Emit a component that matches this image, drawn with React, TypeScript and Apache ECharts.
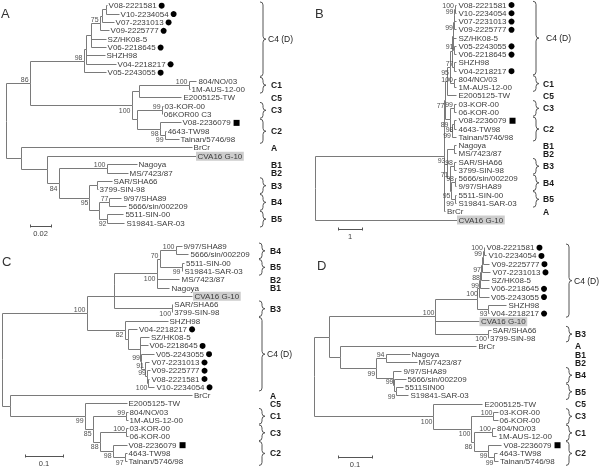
import React, { useEffect, useRef } from 'react';
import * as echarts from 'echarts';

// ---------- DATA: trees (Newick, branch lengths in substitutions/site; "_" = bootstrap drawn below) ----------
const NEWICK_A = `(
 (
  (
   (
    (
     (
      ((V08-2221581:0.001,V10-2234054:0.0124):0.0038,V07-2231013:0.0114):0.0019,
      V09-2225777:0.0086
     )75:0.0086,
     SZ/HK08-5:0.0143,V06-2218645:0.0143
    ):0.0048,
    SHZH98:0.0181,V04-2218217:0.0286
   ):0.0019,
   V05-2243055:0.021
  )98:0.0514,
  (
   ((804/NO/03:0.0076,1M-AUS-12-00:0.001)100:0.0467,E2005125-TW:0.04):0.0076,
   ((03-KOR-00:0.001,06KOR00 C3:0.0003)99:0.0238,(V08-2236079:0.02,(4643-TW98:0.001,Tainan/5746/98:0.0133)99_:0.0048)98_:0.0219):0.0048
  )100_:0.0971
 )86:0.0229,
 (
  BrCr:0.1629,
  (
   CVA16 G-10:0.1419,
   (
    (Nagoya:0.0286,MS/7423/87:0.02)100:0.0457,
    (
     (SAR/SHA66:0.0143,3799-SIN-98:0.001):0.0067,
     ((9/97/SHA89:0.0114,5666/sin/002209:0.0162)77:0.0095,(5511-SIN-00:0.0152,S19841-SAR-03:0.0162)92_:0.0076):0.0095
    )95_:0.0295
   )84_:0.0114
  ):0.0248
 ):0.0143
);`;

const NEWICK_B = `(
 (
  (
   (
    (
     (
      (
       (
        ((V08-2221581:0.0625,V10-2234054:0.0625)100:0.021,V07-2231013:0.083)99:0.021,
        V09-2225777:0.104
       )99_:0.021,
       SZ/HK08-5:0.125,
       (V05-2243055:0.083,V06-2218645:0.083)91:0.042
      ):0.0625,
      (SHZH98:0.083,V04-2218217:0.083)77:0.104
     ):0.083,
     (804/NO/03:0.104,1M-AUS-12-00:0.104)100:0.167
    )95_:0.104,
    E2005125-TW:0.375
   ):0.083,
   (
    (03-KOR-00:0.104,06-KOR-00:0.104)99:0.1875,
    ((V08-2236079:0.083,4643-TW98:0.083)98_:0.104,Tainan/5746/98:0.1875)99_:0.104
   )89_:0.167
  )77_:0.083,
  (
   (Nagoya:0.104,MS/7423/87:0.104):0.3125,
   (
    (SAR/SHA66:0.104,3799-SIN-98:0.104)98:0.1875,
    ((5666/sin/002209:0.0625,9/97/SHA89:0.0625)98:0.146,(5511-SIN-00:0.0625,S19841-SAR-03:0.0625)99_:0.146)95_:0.083
   )71:0.125
  )93:0.125,
  BrCr:0.0625
 ):5.375,
 CVA16 G-10:5.917
);`;

const NEWICK_C = `(
 (
  (
   (
    (
     ((9/97/SHA89:0.0158,5666/sin/002209:0.0342)100:0.0421,(5511-SIN-00:0.0066,S19841-SAR-03:0.0026)99_:0.0579)70:0.0079,
     MS/7423/87:0.0605,
     Nagoya:0.0342
    )100_:0.1113,
    CVA16 G-10:0.206
   ):0.0018,
   (SAR/SHA66:0.0008,3799-SIN-98:0.0003)100_:0.154
  ):0.0711,
  (
   SHZH98:0.1132,
   (
    V04-2218217:0.025,
    (
     SZ/HK08-5:0.025,
     V06-2218645:0.0211,
     (V05-2243055:0.0342,(V07-2231013:0.0118,(V09-2225777:0.0066,(V08-2221581:0.0026,V10-2234054:0.0158)100_:0.0039)99:0.0053)91:0.0105)99:0.0039
    ):0.0316
   ):0.0079
  )82_:0.1
 )100:0.2237,
 (
  BrCr:0.4803,
  (
   E2005125-TW:0.1105,
   (
    (804/NO/03:0.0039,1M-AUS-12-00:0.0039)99:0.0882,
    ((03-KOR-00:0.0039,06-KOR-00:0.0039)100:0.0697,(V08-2236079:0.0368,(4643-TW98:0.0053,Tainan/5746/98:0.0053)97_:0.0316)98_:0.0342)88_:0.0184
   )85_:0.0211
  )99_:0.1974
 ):0.0211
);`;

const NEWICK_D = `(
 (
  (
   (
    (
     (
      (
       (
        ((V08-2221581:0.0015,V10-2234054:0.0074)100:0.0029,V09-2225777:0.0191)99:0.0029,
        V07-2231013:0.025
       )97_:0.0029,
       SZ/HK08-5:0.025
      )88_:0.0029,
      V06-2218645:0.0265
     )99_:0.0029,
     V05-2243055:0.0294
    )100_:0.0044,
    (SHZH98:0.0529,V04-2218217:0.0015)93_:0.0324
   ):0.1235,
   CVA16 G-10:0.1279,
   (SAR/SHA66:0.0074,3799-SIN-98:0.0003)100_:0.1544
  )100:0.3138,
  (
   BrCr:0.4009,
   (
    (Nagoya:0.0706,MS/7423/87:0.0912)94:0.0274,
    (9/97/SHA89:0.0256,(5666/sin/002209:0.0324,(5511SIN00:0.0191,S19841-SAR-03:0.0353)99_:0.0059)99:0.005):0.0488
   )99_:0.1059
  ):0.0335
 ):0.045,
 (
  E2005125-TW:0.1441,
  (
   (03-KOR-00:0.0118,06-KOR-00:0.0118)100:0.0647,
   (
    (804/NO/03:0.0088,1M-AUS-12-00:0.0132)100:0.0544,
    (V08-2236079:0.0382,(4643-TW98:0.0088,Tainan/5746/98:0.0103)99_:0.0176)99_:0.0441
   )86_:0.0059
  )100_:0.1118
 )100_:0.3529
);`;

const DOT_LEAVES = ['V08-2221581', 'V10-2234054', 'V07-2231013', 'V09-2225777', 'V06-2218645', 'V05-2243055', 'V04-2218217'];
const SQUARE_LEAVES = ['V08-2236079'];
const BOXED_LEAVES = ['CVA16 G-10'];

// [label, first row, last row]
const GROUPS_A: [string, number, number][] = [['C4 (D)', 0, 8], ['C1', 9, 10], ['C5', 11, 11], ['C3', 12, 13], ['C2', 14, 16], ['A', 17, 17], ['B1', 19, 19], ['B2', 20, 20], ['B3', 21, 22], ['B4', 23, 24], ['B5', 25, 26]];
const GROUPS_B: [string, number, number][] = [['C4 (D)', 0, 8], ['C1', 9, 10], ['C5', 11, 11], ['C3', 12, 13], ['C2', 14, 16], ['B1', 17, 17], ['B2', 18, 18], ['B3', 19, 20], ['B4', 21, 22], ['B5', 23, 24], ['A', 25, 25]];
const GROUPS_C: [string, number, number][] = [['B4', 0, 1], ['B5', 2, 3], ['B2', 4, 4], ['B1', 5, 5], ['B3', 7, 8], ['C4 (D)', 9, 17], ['A', 18, 18], ['C5', 19, 19], ['C1', 20, 21], ['C3', 22, 23], ['C2', 24, 26]];
const GROUPS_D: [string, number, number][] = [['C4 (D)', 0, 8], ['B3', 10, 11], ['A', 12, 12], ['B1', 13, 13], ['B2', 14, 14], ['B4', 15, 16], ['B5', 17, 18], ['C5', 19, 19], ['C3', 20, 21], ['C1', 22, 23], ['C2', 24, 26]];

const SCALE_VALUES = [0.02, 1, 0.1, 0.1];
const SCALE_LABELS = ['0.02', '1', '0.1', '0.1'];
const PANEL_LETTERS = ['A', 'B', 'C', 'D'];

// ---------- LAYOUT / STYLE ----------
const LAYOUT = [
  { rootX: 6, ppu: 1050, row0: 5.7, step: 8.37, braceX: 260, labelX: 271, c4X: 268, barX: 30, barY: 226.5, letterX: 1, letterY: 13 },
  { rootX: 315, ppu: 24, row0: 5, step: 8.27, braceX: 533, labelX: 543, c4X: 546, barX: 338, barY: 229.5, letterX: 315, letterY: 13 },
  { rootX: 2, ppu: 380, row0: 246.7, step: 8.27, braceX: 259, labelX: 270, c4X: 267, barX: 25, barY: 456.5, letterX: 2, letterY: 261 },
  { rootX: 314, ppu: 340, row0: 247.7, step: 8.23, braceX: 566, labelX: 575, c4X: 574, barX: 338, barY: 457.5, letterX: 317, letterY: 265 },
];
const FONT = '"Liberation Sans", Arial, Helvetica, sans-serif';
const LINE = '#7a7a7a';
const LEAF_COLOR = '#3c3c3c';
const BOOT_COLOR = '#505050';

type TNode = { name: string; len: number; children: TNode[]; depth: number; row: number };

function parseNewick(src: string): TNode {
  const s = src.replace(/\s*\n\s*/g, '').trim();
  let i = 0;
  const node = (): TNode => {
    const n: TNode = { name: '', len: 0, children: [], depth: 0, row: 0 };
    if (s[i] === '(') {
      i++;
      n.children.push(node());
      while (s[i] === ',') { i++; n.children.push(node()); }
      i++;
    }
    let name = '';
    while (i < s.length && !':,);'.includes(s[i])) name += s[i++];
    n.name = name.trim();
    if (s[i] === ':') {
      i++;
      let num = '';
      while (i < s.length && !',);'.includes(s[i])) num += s[i++];
      n.len = parseFloat(num);
    }
    return n;
  };
  return node();
}

function layoutTree(root: TNode) {
  const leaves: TNode[] = [];
  const internals: TNode[] = [];
  const edges: number[][] = [];
  let r = 0;
  const walk = (n: TNode, d: number) => {
    n.depth = d;
    if (!n.children.length) {
      n.row = r++;
      leaves.push(n);
    } else {
      n.children.forEach((c) => walk(c, d + c.len));
      n.row = (n.children[0].row + n.children[n.children.length - 1].row) / 2;
      internals.push(n);
      n.children.forEach((c) => edges.push([n.depth, n.row, c.depth, c.row]));
    }
  };
  walk(root, 0);
  return { leaves, internals: internals.filter((n) => n.name !== ''), edges };
}

let measureCtx: CanvasRenderingContext2D | null = null;
function textWidth(t: string, size: number, weight = 'normal') {
  if (!measureCtx) measureCtx = document.createElement('canvas').getContext('2d');
  if (!measureCtx) return t.length * size * 0.55;
  measureCtx.font = `${weight} ${size}px ${FONT}`;
  return measureCtx.measureText(t).width;
}

const crisp = (v: number) => Math.floor(v) + 0.5;

function bracePath(x0: number, y1: number, y2: number, w: number) {
  const xm = x0 + w / 2;
  const x1 = x0 + w;
  const ym = (y1 + y2) / 2;
  const r = Math.min(3, (y2 - y1) / 4);
  return `M${x0} ${y1} Q${xm} ${y1} ${xm} ${y1 + r} L${xm} ${ym - r} Q${xm} ${ym} ${x1} ${ym} Q${xm} ${ym} ${xm} ${ym + r} L${xm} ${y2 - r} Q${xm} ${y2} ${x0} ${y2}`;
}

function buildOption() {
  const newicks = [NEWICK_A, NEWICK_B, NEWICK_C, NEWICK_D];
  const groupsAll = [GROUPS_A, GROUPS_B, GROUPS_C, GROUPS_D];
  const grids: any[] = [];
  const xAxes: any[] = [];
  const yAxes: any[] = [];
  const series: any[] = [];
  const graphics: any[] = [];
  const W = 240;

  newicks.forEach((nw, i) => {
    const L = LAYOUT[i];
    const { leaves, internals, edges } = layoutTree(parseNewick(nw));
    const n = leaves.length;
    const groups = groupsAll[i];
    grids.push({ left: L.rootX, top: L.row0, width: W, height: (n - 1) * L.step, outerBoundsMode: 'none', containLabel: false });
    xAxes.push({ type: 'value', gridIndex: i, min: 0, max: W / L.ppu, show: false });
    yAxes.push({ type: 'value', gridIndex: i, min: 0, max: n - 1, inverse: true, show: false });
    const common = { type: 'custom', coordinateSystem: 'cartesian2d', xAxisIndex: i, yAxisIndex: i, clip: false, silent: true };

    // branches
    series.push({
      ...common,
      data: edges,
      renderItem: (_p: any, api: any) => {
        const a = api.coord([api.value(0), api.value(1)]);
        const b = api.coord([api.value(0), api.value(3)]);
        const c = api.coord([api.value(2), api.value(3)]);
        return {
          type: 'polyline',
          shape: { points: [[crisp(a[0]), crisp(a[1])], [crisp(b[0]), crisp(b[1])], [crisp(c[0]), crisp(c[1])]] },
          style: { stroke: LINE, lineWidth: 1, fill: null },
        };
      },
    });

    // leaf labels + markers
    series.push({
      ...common,
      data: leaves.map((lf) => [lf.depth, lf.row]),
      renderItem: (params: any, api: any) => {
        const lf = leaves[params.dataIndex];
        const p = api.coord([api.value(0), api.value(1)]);
        const tx = p[0] + 1.5;
        const w = textWidth(lf.name, 8);
        const ch: any[] = [];
        if (BOXED_LEAVES.includes(lf.name)) {
          ch.push({ type: 'rect', shape: { x: tx - 1.5, y: p[1] - 4.5, width: w + 3, height: 9 }, style: { fill: '#cdcdcd' } });
        }
        ch.push({ type: 'text', x: tx, y: p[1], style: { text: lf.name, fontSize: 8, lineHeight: 8, fontFamily: FONT, fill: LEAF_COLOR, align: 'left', verticalAlign: 'middle' } });
        if (DOT_LEAVES.includes(lf.name)) {
          ch.push({ type: 'circle', shape: { cx: tx + w + 5, cy: p[1], r: 3 }, style: { fill: '#000' } });
        }
        if (SQUARE_LEAVES.includes(lf.name)) {
          ch.push({ type: 'rect', shape: { x: tx + w + 3, y: p[1] - 3, width: 6, height: 6 }, style: { fill: '#000' } });
        }
        return { type: 'group', children: ch };
      },
    });

    // bootstrap values
    series.push({
      ...common,
      data: internals.map((nd) => [nd.depth, nd.row]),
      renderItem: (params: any, api: any) => {
        const nd = internals[params.dataIndex];
        const below = nd.name.endsWith('_');
        const p = api.coord([api.value(0), api.value(1)]);
        return {
          type: 'group',
          children: [
            {
              type: 'text',
              x: p[0] - 1.5,
              y: p[1] + (below ? 4.5 : -4),
              style: { text: nd.name.replace('_', ''), fontSize: 7, lineHeight: 7, fontFamily: FONT, fill: BOOT_COLOR, align: 'right', verticalAlign: 'middle' },
            },
          ],
        };
      },
    });

    // clade braces and names
    series.push({
      ...common,
      data: groups.map((g) => [0, g[1], g[2]]),
      renderItem: (params: any, api: any) => {
        const g = groups[params.dataIndex];
        const y1 = api.coord([0, api.value(1) - 0.45])[1];
        const y2 = api.coord([0, api.value(2) + 0.45])[1];
        const ym = (y1 + y2) / 2;
        const ch: any[] = [];
        if (g[2] > g[1]) {
          ch.push({ type: 'path', shape: { pathData: bracePath(L.braceX, y1, y2, 6) }, style: { stroke: '#555', lineWidth: 1, fill: null } });
        }
        const isC4 = g[0] === 'C4 (D)';
        ch.push({
          type: 'text',
          x: isC4 ? L.c4X : L.labelX,
          y: ym,
          style: { text: g[0], fontSize: 8.5, lineHeight: 8, fontWeight: isC4 ? 'normal' : 'bold', fontFamily: FONT, fill: '#1a1a1a', align: 'left', verticalAlign: 'middle' },
        });
        return { type: 'group', children: ch };
      },
    });

    // scale bar
    series.push({
      ...common,
      data: [[SCALE_VALUES[i], 0]],
      renderItem: (_p: any, api: any) => {
        const len = api.size([api.value(0), 0])[0];
        const x0 = L.barX;
        const x1 = L.barX + len;
        const y = L.barY;
        return {
          type: 'group',
          children: [
            { type: 'line', shape: { x1: x0, y1: y, x2: x1, y2: y }, style: { stroke: '#555', lineWidth: 1 } },
            { type: 'line', shape: { x1: crisp(x0), y1: y - 2, x2: crisp(x0), y2: y + 1 }, style: { stroke: '#555', lineWidth: 1 } },
            { type: 'line', shape: { x1: crisp(x1), y1: y - 2, x2: crisp(x1), y2: y + 1 }, style: { stroke: '#555', lineWidth: 1 } },
            { type: 'text', x: (x0 + x1) / 2, y: y + 7, style: { text: SCALE_LABELS[i], fontSize: 7.5, fontFamily: FONT, fill: LEAF_COLOR, align: 'center', verticalAlign: 'middle' } },
          ],
        };
      },
    });

    graphics.push({
      type: 'text',
      x: L.letterX,
      y: L.letterY,
      style: { text: PANEL_LETTERS[i], fontSize: 13, fontFamily: FONT, fill: '#333', verticalAlign: 'middle', align: 'left' },
    });
  });

  return {
    animation: false,
    backgroundColor: 'transparent',
    grid: grids,
    xAxis: xAxes,
    yAxis: yAxes,
    series,
    graphic: graphics,
  };
}

export default function App() {
  const ref = useRef<HTMLDivElement | null>(null);
  useEffect(() => {
    if (!ref.current) return;
    const chart = echarts.init(ref.current, undefined, { renderer: 'svg' });
    chart.setOption(buildOption() as any);
    return () => chart.dispose();
  }, []);
  return <div ref={ref} style={{ position: 'fixed', left: 0, top: 0, width: 600, height: 469, willChange: 'transform' }} />;
}
